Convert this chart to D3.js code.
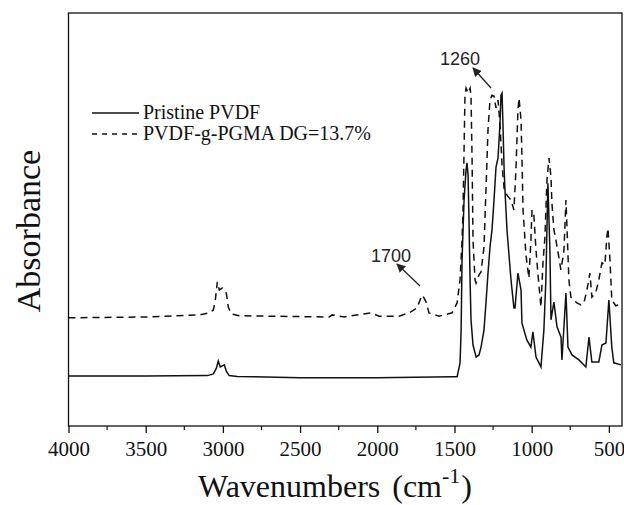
<!DOCTYPE html>
<html>
<head>
<meta charset="utf-8">
<script src="https://cdn.jsdelivr.net/npm/d3@7"></script>
<style>
  body { margin: 0; background: #fff; }
  svg { display: block; }
</style>
</head>
<body>
<svg id="chart" width="624" height="505"></svg>
<script>
// Pristine PVDF (solid)
const pristineWn = [4000, 3500, 3100, 3062, 3042, 3030, 3017, 2991, 2978, 2959, 2907, 2500, 2000, 1510, 1483,
  1464, 1457, 1451, 1438, 1425, 1419, 1412, 1406, 1399, 1393, 1380, 1367, 1360, 1341, 1328, 1309, 1296, 1283,
  1270, 1257, 1244, 1231, 1218, 1205, 1199, 1192, 1186, 1179, 1173, 1160, 1134, 1115, 1108, 1089, 1069, 1063,
  1031, 1005, 992, 972, 940, 921, 908, 895, 882, 875, 856, 836, 810, 804, 778, 765, 739, 694, 649, 629, 610,
  565, 545, 519, 500, 481, 468, 422];
const pristineAbs = [0.121, 0.121, 0.122, 0.126, 0.140, 0.157, 0.143, 0.148, 0.133, 0.122, 0.120, 0.117, 0.117, 0.119, 0.119,
  0.153, 0.232, 0.402, 0.547, 0.620, 0.637, 0.608, 0.499, 0.354, 0.257, 0.196, 0.177, 0.167, 0.172, 0.191, 0.232, 0.298, 0.370,
  0.433, 0.475, 0.547, 0.627, 0.649, 0.734, 0.801, 0.806, 0.729, 0.627, 0.571, 0.475, 0.354, 0.286, 0.286, 0.370, 0.329, 0.249,
  0.208, 0.191, 0.228, 0.167, 0.143, 0.232, 0.354, 0.588, 0.426, 0.257, 0.300, 0.240, 0.215, 0.160, 0.322, 0.191, 0.172, 0.160, 0.143, 0.215, 0.155,
  0.155, 0.196, 0.201, 0.305, 0.191, 0.153, 0.148];

// PVDF-g-PGMA DG=13.7% (dashed)
const graftedWn = [4000, 3500, 3152, 3088, 3062, 3049, 3036, 3023, 3004, 2991, 2978, 2965, 2945, 2894, 2311, 2292,
  2214, 2040, 1988, 1859, 1794, 1742, 1723, 1710, 1697, 1684, 1665, 1600, 1516, 1483, 1464, 1451, 1445, 1438,
  1432, 1425, 1412, 1399, 1393, 1386, 1380, 1367, 1360, 1341, 1328, 1309, 1296, 1283, 1270, 1257, 1244, 1231,
  1218, 1205, 1192, 1179, 1160, 1134, 1115, 1102, 1089, 1082, 1069, 1063, 1056, 1037, 1018, 1005, 998, 986, 972,
  959, 940, 927, 914, 901, 888, 875, 869, 856, 843, 824, 811, 798, 791, 778, 772, 759, 746, 707, 681, 662, 642,
  623, 610, 584, 565, 545, 526, 513, 506, 493, 481, 455, 422];
const graftedAbs = [0.262, 0.264, 0.269, 0.274, 0.281, 0.305, 0.349, 0.329, 0.334, 0.329, 0.322, 0.288, 0.271, 0.267, 0.264, 0.269,
  0.264, 0.274, 0.266, 0.266, 0.274, 0.286, 0.305, 0.317, 0.310, 0.300, 0.274, 0.266, 0.274, 0.298, 0.354, 0.450, 0.516, 0.668,
  0.801, 0.818, 0.806, 0.818, 0.801, 0.644, 0.450, 0.354, 0.346, 0.366, 0.373, 0.433, 0.571, 0.717, 0.789, 0.801, 0.799, 0.770,
  0.789, 0.729, 0.632, 0.576, 0.559, 0.547, 0.523, 0.620, 0.765, 0.794, 0.741, 0.651, 0.523, 0.414, 0.358, 0.450, 0.523, 0.511, 0.426,
  0.366, 0.288, 0.395, 0.458, 0.596, 0.649, 0.603, 0.540, 0.475, 0.450, 0.409, 0.378, 0.407, 0.426, 0.547, 0.487, 0.354, 0.312, 0.298, 0.293, 0.298, 0.329,
  0.370, 0.312, 0.324, 0.354, 0.395, 0.390, 0.458, 0.479, 0.402, 0.305, 0.291, 0.295];

const xTicks = [4000, 3500, 3000, 2500, 2000, 1500, 1000, 500];
const xMinorTicks = [3750, 3250, 2750, 2250, 1750, 1250, 750];

const serif = "'Liberation Serif', 'Times New Roman', serif";

const svg = d3.select("#chart");
const margin = { top: 13, left: 68.5, right: 2, bottom: 79 };
const width = 624 - margin.left - margin.right;
const height = 505 - margin.top - margin.bottom;

const x = d3.scaleLinear().domain([4000, 415]).range([0, width]);
const y = d3.scaleLinear().domain([0, 1]).range([height, 0]);

const g = svg.append("g").attr("transform", `translate(${margin.left},${margin.top})`);

g.append("defs").append("clipPath").attr("id", "clip")
  .append("rect").attr("width", width).attr("height", height);

const line = d3.line().x(d => x(d[0])).y(d => y(d[1]));

g.append("path")
  .datum(d3.zip(graftedWn, graftedAbs))
  .attr("clip-path", "url(#clip)")
  .attr("d", line)
  .attr("fill", "none")
  .attr("stroke", "#111")
  .attr("stroke-width", 1.5)
  .attr("stroke-dasharray", "7,5");

g.append("path")
  .datum(d3.zip(pristineWn, pristineAbs))
  .attr("clip-path", "url(#clip)")
  .attr("d", line)
  .attr("fill", "none")
  .attr("stroke", "#111")
  .attr("stroke-width", 1.5);

// frame
g.append("rect")
  .attr("width", width).attr("height", height)
  .attr("fill", "none").attr("stroke", "#111").attr("stroke-width", 1.3);

// bottom axis
const xAxis = g.append("g").attr("transform", `translate(0,${height})`)
  .call(d3.axisBottom(x).tickValues(xTicks).tickSize(7).tickPadding(8).tickFormat(d3.format("d")));
xAxis.attr("font-family", serif).attr("font-size", 21);
xAxis.select(".domain").remove();
xAxis.selectAll("line").attr("stroke", "#111").attr("stroke-width", 1.3);
xAxis.selectAll("text")
  .attr("fill", "#111")
  .style("font-family", serif)
  .style("font-size", "21px");

g.append("g").attr("transform", `translate(0,${height})`)
  .selectAll("line").data(xMinorTicks).enter().append("line")
  .attr("x1", d => x(d)).attr("x2", d => x(d))
  .attr("y1", 0).attr("y2", 4)
  .attr("stroke", "#111").attr("stroke-width", 1.2);

// axis titles
const xt = svg.append("text")
  .attr("x", 198).attr("y", 497)
  .style("font-family", serif).style("font-size", "32px").attr("fill", "#111");
xt.append("tspan").text("Wavenumbers");
xt.append("tspan").text("(").attr("dx", 12);
xt.append("tspan").text("cm");
xt.append("tspan").text("-1").attr("dy", -14).style("font-size", "22px");
xt.append("tspan").text(")").attr("dy", 14).attr("dx", 1);

svg.append("text")
  .attr("transform", "translate(40,231) rotate(-90)")
  .attr("text-anchor", "middle")
  .style("font-family", serif).style("font-size", "34px").attr("fill", "#111")
  .text("Absorbance");

// legend
const legend = svg.append("g");
const legendItems = [
  { label: "Pristine PVDF", dash: null, yy: 113 },
  { label: "PVDF-g-PGMA DG=13.7%", dash: "5,5", yy: 134 }
];
legendItems.forEach(it => {
  legend.append("line")
    .attr("x1", 92).attr("x2", 139).attr("y1", it.yy).attr("y2", it.yy)
    .attr("stroke", "#111").attr("stroke-width", 1.5)
    .attr("stroke-dasharray", it.dash);
  legend.append("text")
    .attr("x", 143).attr("y", it.yy + 6)
    .style("font-family", serif).style("font-size", "20px").attr("fill", "#111")
    .text(it.label);
});

// annotations
svg.append("defs").append("marker")
  .attr("id", "arrow").attr("viewBox", "0 0 10 10")
  .attr("refX", 9).attr("refY", 5)
  .attr("markerWidth", 9).attr("markerHeight", 9)
  .attr("markerUnits", "userSpaceOnUse")
  .attr("orient", "auto")
  .append("path").attr("d", "M0,0L10,5L0,10z").attr("fill", "#222");

const notes = [
  { label: "1260", tx: 440, ty: 65, x1: 491, y1: 88, x2: 473, y2: 68 },
  { label: "1700", tx: 371, ty: 262, x1: 420, y1: 286, x2: 397, y2: 264 }
];
notes.forEach(n => {
  svg.append("line")
    .attr("x1", n.x1).attr("y1", n.y1).attr("x2", n.x2).attr("y2", n.y2)
    .attr("stroke", "#222").attr("stroke-width", 1.3)
    .attr("marker-end", "url(#arrow)");
  svg.append("text")
    .attr("x", n.tx).attr("y", n.ty)
    .style("font-family", "'Liberation Sans', Arial, sans-serif").style("font-size", "18px").attr("fill", "#222")
    .text(n.label);
});
</script>
</body>
</html>
